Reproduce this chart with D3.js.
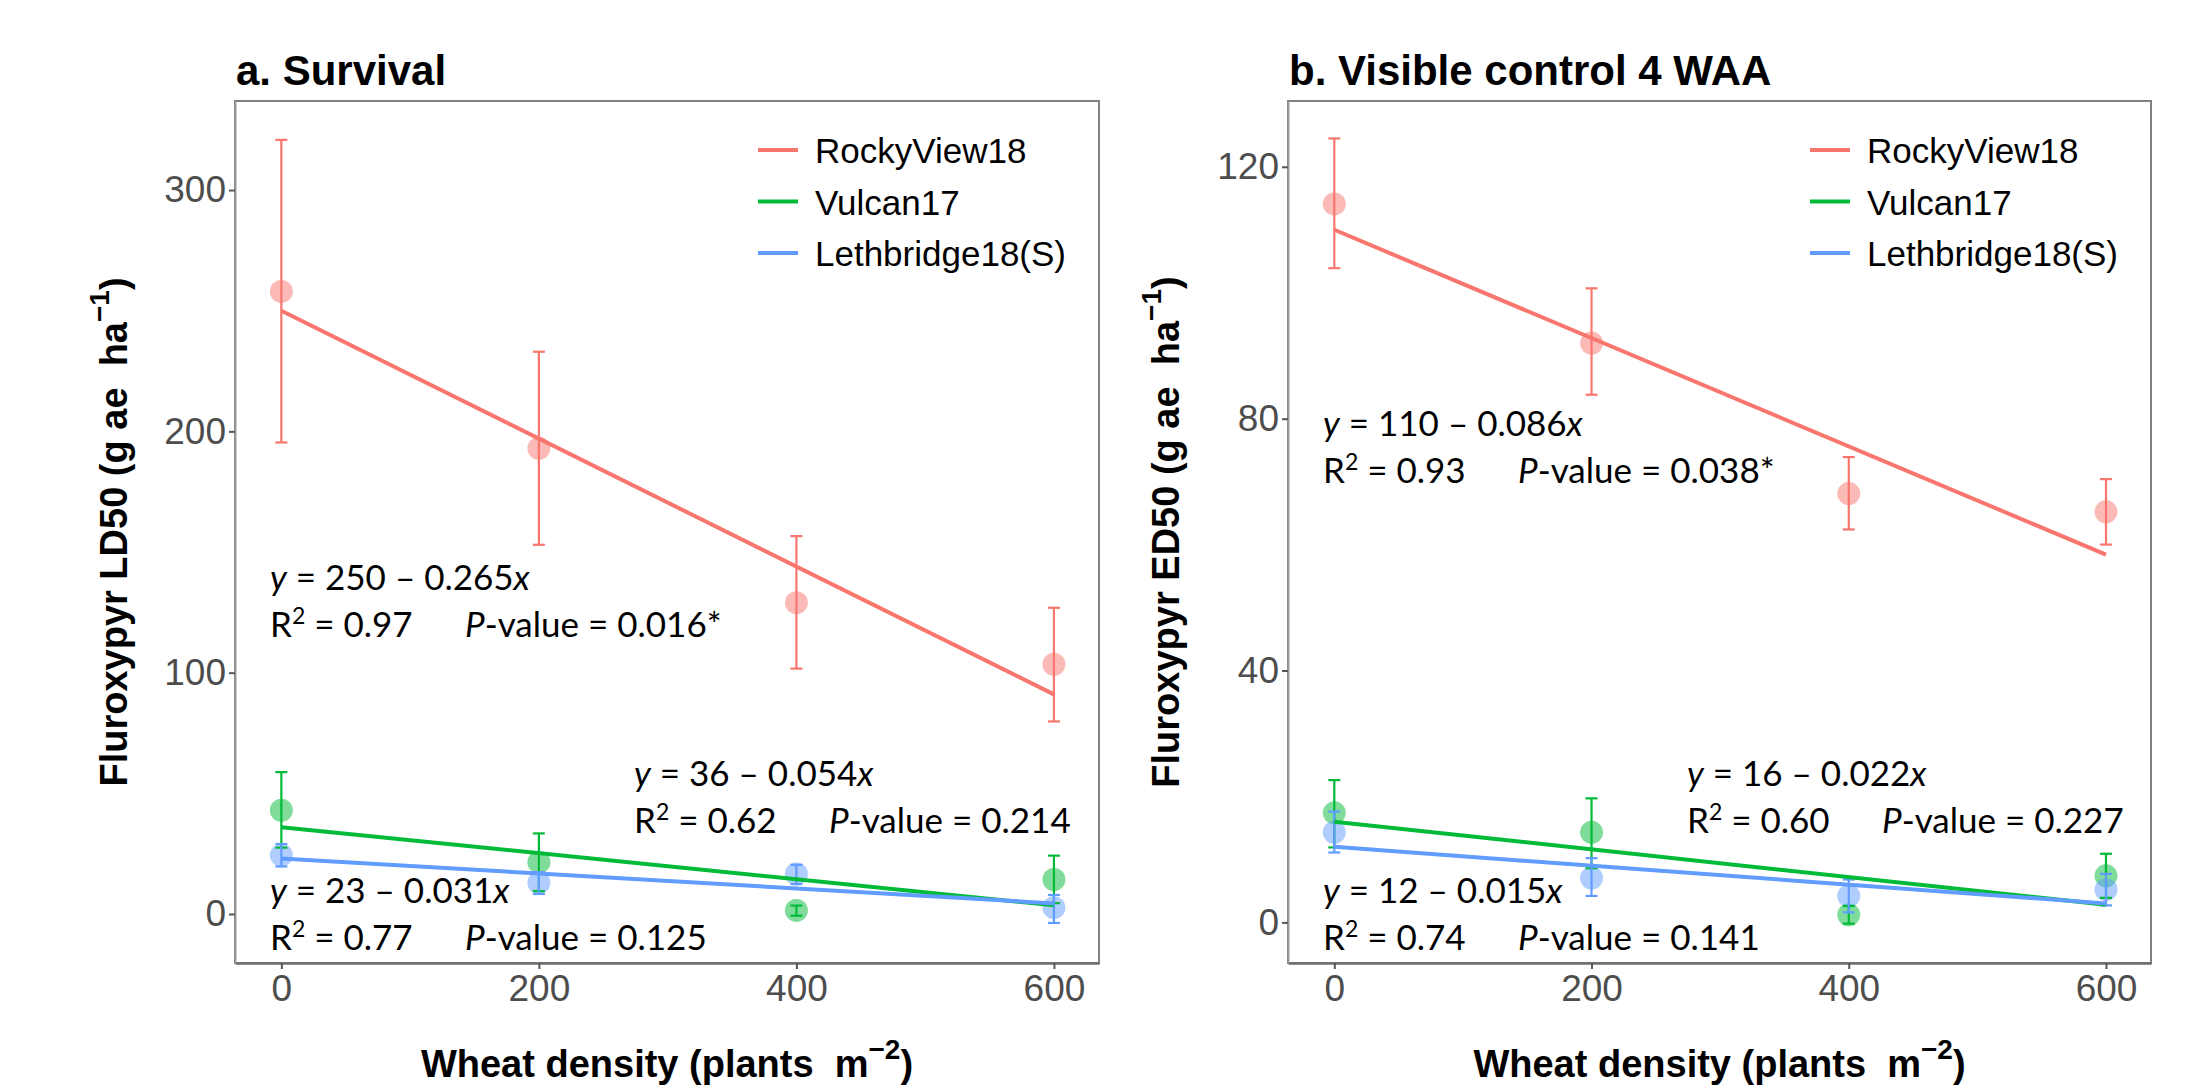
<!DOCTYPE html>
<html>
<head>
<meta charset="utf-8">
<script src="https://cdn.jsdelivr.net/npm/d3@7"></script>
<style>
  body { margin: 0; background: #fff; }
  text { white-space: pre; }
</style>
</head>
<body>
<svg id="chart"></svg>
<script>
var svgWidth = 2199;
var svgHeight = 1092;

// shared categories
var densities = [0, 200, 400, 600];
var sites = ["RockyView18", "Vulcan17", "Lethbridge18(S)"];
var siteColors = ["#F8766D", "#00BA38", "#619CFF"];

// panel a: survival LD50 (g ae/ha), one row per site
var ldMean = [[258, 193, 129, 103.5], [43, 21.5, 1.5, 14.3], [24.4, 13, 16.6, 2.6]];
var ldLow = [[195.4, 153, 101.7, 79.8], [27.5, 9.5, -0.7, 4.5], [19.7, 8.3, 12.4, -3.7]];
var ldHigh = [[320.8, 233, 156.6, 126.9], [58.8, 33.4, 3.5, 24.2], [29, 17.4, 20.4, 7.9]];
var ldIntercept = [250, 36, 23];
var ldSlope = [-0.265, -0.054, -0.031];
var ldR2 = ["0.97", "0.62", "0.77"];
var ldP = ["0.016*", "0.214", "0.125"];
var ldTicks = [0, 100, 200, 300];

// panel b: visible control ED50 at 4 WAA
var edMean = [[114.1, 92, 68.1, 65.2], [17.4, 14.3, 1.2, 7.4], [14.3, 7.05, 4.2, 5.2]];
var edLow = [[103.9, 83.8, 62.4, 60], [11.9, 8.6, -0.2, 3.9], [11.1, 4.2, 1.6, 2.7]];
var edHigh = [[124.5, 100.7, 73.9, 70.4], [22.6, 19.7, 2.6, 10.9], [17.6, 10.2, 6.8, 7.7]];
var edIntercept = [110, 16, 12];
var edSlope = [-0.086, -0.022, -0.015];
var edR2 = ["0.93", "0.60", "0.74"];
var edP = ["0.038*", "0.227", "0.141"];
var edTicks = [0, 40, 80, 120];

var plotTop = 101, plotBottom = 963;
var arial = "'Liberation Sans', Arial, sans-serif";
var noteFont = "Lato, 'Open Sans', sans-serif";

var panels = [
  {left: 235, right: 1099, title: "a. Survival", yName: "LD50",
   mean: ldMean, low: ldLow, high: ldHigh, a: ldIntercept, b: ldSlope, r2: ldR2, p: ldP,
   ticks: ldTicks, yDomain: [-20.3, 336.9], yTitleX: 127,
   notes: [[35, 590], [399, 785.6], [35, 902.7]]},
  {left: 1288, right: 2151, title: "b. Visible control 4 WAA", yName: "ED50",
   mean: edMean, low: edLow, high: edHigh, a: edIntercept, b: edSlope, r2: edR2, p: edP,
   ticks: edTicks, yDomain: [-6.45, 130.45], yTitleX: 1179,
   notes: [[35, 435.7], [399, 785.6], [35, 902.7]]}
];

var svg = d3.select("#chart")
  .attr("width", svgWidth)
  .attr("height", svgHeight);

svg.append("rect").attr("width", svgWidth).attr("height", svgHeight).attr("fill", "#fff");

panels.forEach(function(p) {
  var g = svg.append("g");
  var x = d3.scaleLinear().domain([-36, 635]).range([p.left, p.right]);
  var y = d3.scaleLinear().domain(p.yDomain).range([plotBottom, plotTop]);

  // panel border
  g.append("rect")
    .attr("x", p.left).attr("y", plotTop)
    .attr("width", p.right - p.left).attr("height", plotBottom - plotTop)
    .attr("fill", "none").attr("stroke", "#808080").attr("stroke-width", 2);

  var xAxis = g.append("g")
    .attr("transform", `translate(0, ${plotBottom})`)
    .call(d3.axisBottom(x).tickValues(densities).tickSize(6).tickPadding(6).tickSizeOuter(0));
  var yAxis = g.append("g")
    .attr("transform", `translate(${p.left}, 0)`)
    .call(d3.axisLeft(y).tickValues(p.ticks).tickSize(6).tickPadding(3).tickSizeOuter(0));

  [xAxis, yAxis].forEach(function(ax) {
    ax.select(".domain").attr("stroke", "#6e6e6e").attr("stroke-width", 2.5);
    ax.selectAll(".tick line").attr("stroke", "#555").attr("stroke-width", 2);
    ax.selectAll(".tick text")
      .attr("fill", "#4d4d4d")
      .style("font-family", arial)
      .style("font-size", "37px");
  });
  yAxis.select(".domain").attr("stroke", "#9a9a9a").attr("stroke-width", 2);

  // points
  sites.forEach(function(s, i) {
    g.selectAll(null)
      .data(densities)
      .enter()
      .append("circle")
      .attr("cx", d => x(d))
      .attr("cy", (d, j) => y(p.mean[i][j]))
      .attr("r", 11.5)
      .attr("fill", siteColors[i])
      .attr("fill-opacity", 0.5);
  });

  // error bars
  sites.forEach(function(s, i) {
    var eb = g.selectAll(null)
      .data(densities)
      .enter()
      .append("g")
      .attr("stroke", siteColors[i])
      .attr("stroke-width", 2.2);
    eb.append("line")
      .attr("x1", d => x(d)).attr("x2", d => x(d))
      .attr("y1", (d, j) => y(p.low[i][j])).attr("y2", (d, j) => y(p.high[i][j]));
    eb.append("line")
      .attr("x1", d => x(d) - 6).attr("x2", d => x(d) + 6)
      .attr("y1", (d, j) => y(p.low[i][j])).attr("y2", (d, j) => y(p.low[i][j]));
    eb.append("line")
      .attr("x1", d => x(d) - 6).attr("x2", d => x(d) + 6)
      .attr("y1", (d, j) => y(p.high[i][j])).attr("y2", (d, j) => y(p.high[i][j]));
  });

  // fitted lines
  sites.forEach(function(s, i) {
    var ends = [0, 600];
    g.append("path")
      .datum(ends)
      .attr("fill", "none")
      .attr("stroke", siteColors[i])
      .attr("stroke-width", 4)
      .attr("d", d3.line().x(d => x(d)).y(d => y(p.a[i] + p.b[i] * d)));
  });

  // legend
  sites.forEach(function(s, i) {
    var ly = 150 + i * 51.5;
    g.append("line")
      .attr("x1", p.right - 341).attr("x2", p.right - 301)
      .attr("y1", ly).attr("y2", ly)
      .attr("stroke", siteColors[i]).attr("stroke-width", 4);
    g.append("text")
      .attr("x", p.right - 284).attr("y", ly + 13)
      .style("font-family", arial).style("font-size", "35px")
      .attr("fill", "#000")
      .text(s);
  });

  // regression notes
  sites.forEach(function(s, i) {
    var nx = p.left + p.notes[i][0];
    var ny = p.notes[i][1];
    var t1 = g.append("text").attr("x", nx).attr("y", ny)
      .style("font-family", noteFont).style("font-size", "35px");
    t1.append("tspan").style("font-style", "italic").text("y");
    t1.append("tspan").text(" = " + p.a[i] + " \u2013 " + d3.format(".3f")(Math.abs(p.b[i])));
    t1.append("tspan").style("font-style", "italic").text("x");

    var t2 = g.append("text").attr("x", nx).attr("y", ny + 47)
      .style("font-family", noteFont).style("font-size", "35px");
    t2.append("tspan").text("R");
    t2.append("tspan").attr("dy", -13).style("font-size", "23px").text("2");
    t2.append("tspan").attr("dy", 13).text(" = " + p.r2[i]);

    var t3 = g.append("text").attr("x", nx + 195).attr("y", ny + 47)
      .style("font-family", noteFont).style("font-size", "35px");
    t3.append("tspan").style("font-style", "italic").text("P");
    t3.append("tspan").text("-value = " + p.p[i]);
  });

  // titles
  g.append("text")
    .attr("x", p.left + 1).attr("y", 85)
    .style("font-family", arial).style("font-size", "42px").style("font-weight", "bold")
    .text(p.title);

  var xt = g.append("text")
    .attr("x", (p.left + p.right) / 2).attr("y", 1077)
    .attr("text-anchor", "middle")
    .style("font-family", arial).style("font-size", "38px").style("font-weight", "bold");
  xt.append("tspan").text("Wheat density (plants  m");
  xt.append("tspan").attr("dy", -18).style("font-size", "28px").text("\u22122");
  xt.append("tspan").attr("dy", 18).text(")");

  var yt = g.append("text")
    .attr("transform", `translate(${p.yTitleX}, ${(plotTop + plotBottom) / 2}) rotate(-90)`)
    .attr("text-anchor", "middle")
    .style("font-family", arial).style("font-size", "38px").style("font-weight", "bold");
  yt.append("tspan").text("Fluroxypyr " + p.yName + " (g ae  ha");
  yt.append("tspan").attr("dy", -18).style("font-size", "28px").text("\u22121");
  yt.append("tspan").attr("dy", 18).text(")");
});
</script>
</body>
</html>
